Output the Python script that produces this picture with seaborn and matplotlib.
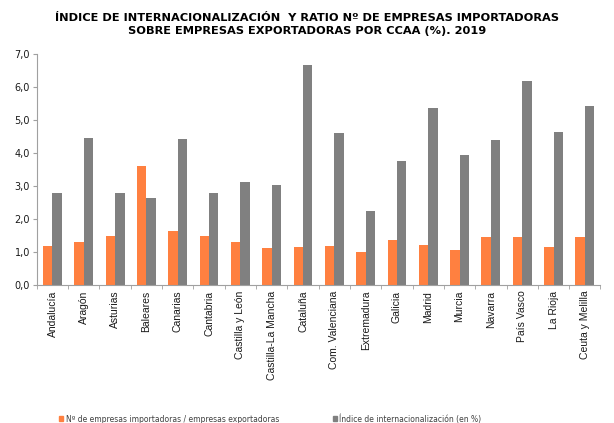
import pandas as pd
import matplotlib.pyplot as plt
import seaborn as sns
from matplotlib.ticker import FixedLocator, FuncFormatter

regiones = ['Andalucía', 'Aragón', 'Asturias', 'Baleares', 'Canarias', 'Cantabria',
            'Castilla y León', 'Castilla-La Mancha', 'Cataluña', 'Com. Valenciana',
            'Extremadura', 'Galicia', 'Madrid', 'Murcia', 'Navarra', 'País Vasco',
            'La Rioja', 'Ceuta y Melilla']
ratio_imp_exp = [1.20, 1.31, 1.48, 3.60, 1.65, 1.48, 1.31, 1.11, 1.14, 1.17,
                 1.01, 1.37, 1.23, 1.06, 1.46, 1.46, 1.14, 1.46]
indice_intern = [2.80, 4.47, 2.80, 2.65, 4.44, 2.80, 3.11, 3.02, 6.66, 4.62,
                 2.25, 3.77, 5.38, 3.93, 4.39, 6.18, 4.65, 5.43]
series = ['Nº de empresas importadoras / empresas exportadoras',
          'Índice de internacionalización (en %)']

df = pd.DataFrame({
    'Region': regiones * 2,
    'Valor': ratio_imp_exp + indice_intern,
    'Serie': [series[0]] * len(regiones) + [series[1]] * len(regiones),
})

sns.set_style('white')
plt.rcParams['font.family'] = ['DejaVu Sans']

fig = plt.figure(figsize=(6.14, 4.23), dpi=100)
ax = fig.add_axes([0.06, 0.326, 0.918, 0.546])

sns.barplot(data=df, x='Region', y='Valor', hue='Serie', hue_order=series,
            palette=['#FF8040', '#808080'], width=0.6, saturation=1,
            linewidth=0, ax=ax, legend=False)

ax.set_ylim(0, 7)
ax.set_xlim(-0.5, len(regiones) - 0.5)
ax.set_yticks(range(8))
ax.yaxis.set_major_formatter(FuncFormatter(lambda v, p: f'{v:.1f}'.replace('.', ',')))
ax.tick_params(axis='y', labelsize=7, length=3, color='#A0A0A0', left=True, pad=2,
               labelcolor='#1A1A1A')
ax.set_xticks(range(len(regiones)))
ax.set_xticklabels(regiones, rotation=90, fontsize=7.5, family='Liberation Sans')
ax.tick_params(axis='x', which='major', length=0, pad=4, labelcolor='#1A1A1A')
ax.xaxis.set_minor_locator(FixedLocator([i + 0.5 for i in range(-1, len(regiones))]))
ax.tick_params(axis='x', which='minor', length=3, color='#A0A0A0', bottom=True)
ax.set_xlabel('')
ax.set_ylabel('')
for s in ['top', 'right']:
    ax.spines[s].set_visible(False)
for s in ['left', 'bottom']:
    ax.spines[s].set_color('#A0A0A0')
    ax.spines[s].set_linewidth(0.8)

fig.text(0.5, 0.942, 'ÍNDICE DE INTERNACIONALIZACIÓN  Y RATIO Nº DE EMPRESAS IMPORTADORAS\n'
         'SOBRE EMPRESAS EXPORTADORAS POR CCAA (%). 2019',
         ha='center', va='center', fontsize=8.2, fontweight='bold', linespacing=1.3,
         color='black')

handles = [plt.Rectangle((0, 0), 1, 1, color=c) for c in ['#FF8040', '#808080']]
leg = fig.legend(handles, series, loc='center', bbox_to_anchor=(0.44, 0.01), ncol=2,
                 frameon=False, fontsize=5.5, handlelength=0.6, handleheight=0.6,
                 handletextpad=0.3, columnspacing=7)
for t in leg.get_texts():
    t.set_color('#404040')

fig.savefig('out.png', dpi=100)
